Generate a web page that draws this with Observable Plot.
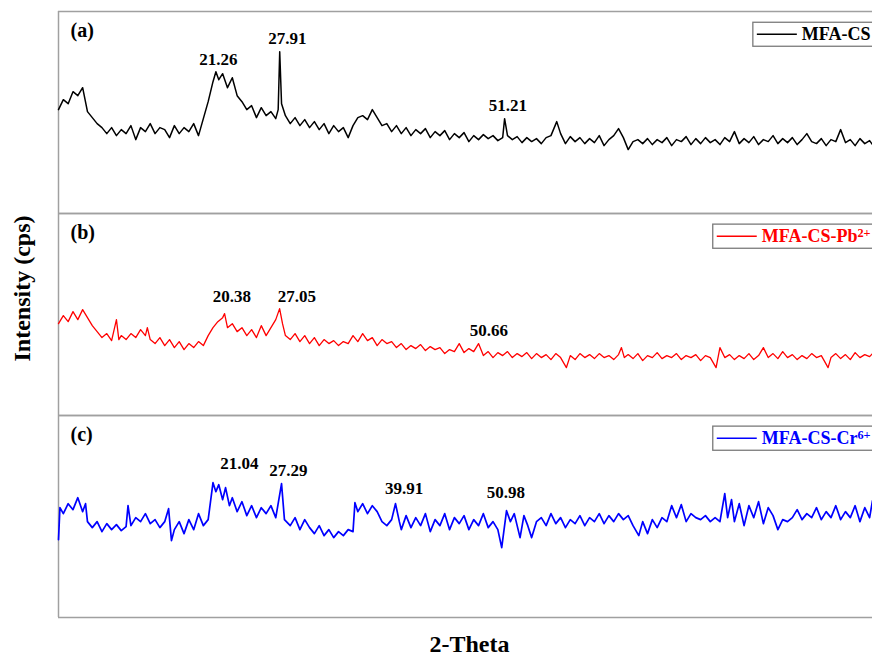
<!DOCTYPE html>
<html><head><meta charset="utf-8">
<script src="https://cdn.jsdelivr.net/npm/d3@7"></script>
<script src="https://cdn.jsdelivr.net/npm/@observablehq/plot@0.6"></script>
<style>html,body{margin:0;padding:0;background:#fff;overflow:hidden}</style>
</head><body><div id="chart"></div>
<script>
const panels = ["a", "b", "c"];
const panelLabels = ["(a)", "(b)", "(c)"];
const seriesNames = ["MFA-CS", "MFA-CS-Pb^2+", "MFA-CS-Cr^6+"];
const seriesColors = ["#000000", "#ff0000", "#0000ff"];
const xLabel = "2-Theta";
const yLabel = "Intensity (cps)";

// (a) MFA-CS
const thetaA = [5.0,5.5,6.0,6.5,7.0,7.5,8.0,8.5,9.0,9.5,10.0,10.5,11.0,11.5,12.0,12.5,13.0,13.5,14.0,14.5,15.0,15.5,16.0,16.5,17.0,17.5,18.0,18.5,19.0,19.5,20.0,20.5,21.0,21.3,21.6,22.0,22.5,23.0,23.5,24.0,24.5,25.0,25.5,26.0,26.5,27.0,27.5,27.75,27.91,28.1,28.5,29.0,29.5,30.0,30.5,31.0,31.5,32.0,32.5,33.0,33.5,34.0,34.5,35.0,35.5,36.0,36.5,37.0,37.5,38.0,38.5,39.0,39.5,40.0,40.5,41.0,41.5,42.0,42.5,43.0,43.5,44.0,44.5,45.0,45.5,46.0,46.5,47.0,47.5,48.0,48.5,49.0,49.5,50.0,50.5,51.0,51.2,51.5,52.0,52.5,53.0,53.5,54.0,54.5,55.0,55.5,56.0,56.6,57.0,57.5,58.0,58.5,59.0,59.5,60.0,60.5,61.0,61.5,62.0,62.5,63.0,63.5,64.0,64.5,65.0,65.5,66.0,66.5,67.0,67.5,68.0,68.5,69.0,69.5,70.0,70.5,71.0,71.5,72.0,72.5,73.0,73.5,74.0,74.5,75.0,75.5,76.0,76.5,77.0,77.5,78.0,78.5,79.0,79.5,80.0,80.5,81.0,81.5,82.0,82.5,83.0,83.5,84.0,84.5,85.0,85.5,86.0,86.5,87.0,87.5,88.0,88.5,89.0,89.3];
const intensityA = [104,114,110,122,118,126,102,96,90,86,80,86,78,84,80,88,74,86,82,90,80,86,84,76,88,80,86,82,90,78,95,112,132,142,134,140,126,136,118,112,104,108,96,106,98,102,95,104,162,110,98,90,96,88,94,86,92,84,90,80,88,82,86,76,88,96,98,94,104,96,88,90,82,88,80,86,78,84,80,85,76,82,78,83,74,80,76,81,72,78,74,79,75,78,73,76,95,78,74,77,71,76,72,75,70,76,78,92,80,70,77,72,76,70,75,71,78,68,74,78,85,76,64,72,74,70,75,69,74,71,76,68,74,72,77,69,75,70,76,71,74,69,76,72,82,70,75,71,77,69,74,72,78,70,75,71,76,69,74,80,72,70,75,68,74,72,84,71,74,68,75,70,73,69];

// (b) MFA-CS-Pb2+
const thetaB = [5.0,5.5,6.0,6.5,7.0,7.5,8.0,8.5,9.0,9.5,10.0,10.5,11.0,11.25,11.5,12.0,12.5,13.0,13.5,14.0,14.2,14.5,15.0,15.5,16.0,16.5,17.0,17.5,18.0,18.5,19.0,19.5,20.0,20.5,21.0,21.5,22.0,22.2,22.5,23.0,23.5,24.0,24.5,25.0,25.5,26.0,26.5,27.0,27.5,27.9,28.2,28.5,29.0,29.5,30.0,30.5,31.0,31.5,32.0,32.5,33.0,33.5,34.0,34.5,35.0,35.5,36.0,36.5,37.0,37.5,38.0,38.5,39.0,39.5,40.0,40.5,41.0,41.5,42.0,42.5,43.0,43.5,44.0,44.5,45.0,45.5,46.0,46.5,47.0,47.5,48.0,48.5,49.0,49.5,50.0,50.5,51.0,51.5,52.0,52.5,53.0,53.5,54.0,54.5,55.0,55.5,56.0,56.5,57.0,57.6,58.0,58.5,59.0,59.5,60.0,60.5,61.0,61.5,62.0,62.5,63.0,63.3,63.6,64.0,64.5,65.0,65.5,66.0,66.5,67.0,67.5,68.0,68.5,69.0,69.5,70.0,70.5,71.0,71.5,72.0,72.5,73.1,73.5,74.0,74.5,75.0,75.5,76.0,76.5,77.0,77.5,78.0,78.5,79.0,79.5,80.0,80.5,81.0,81.5,82.0,82.5,83.0,83.5,84.0,84.7,85.0,85.5,86.0,86.5,87.0,87.5,88.0,88.5,89.0,89.3];
const intensityB = [92,100,94,104,96,106,98,90,84,78,82,75,96,76,80,76,82,78,86,80,88,76,72,78,70,76,68,74,66,72,68,74,70,80,88,94,98,102,88,92,84,88,80,86,78,90,80,88,96,107,92,80,76,82,74,80,72,78,70,76,72,75,70,74,72,80,74,82,75,78,70,76,72,74,68,72,66,70,67,71,65,69,66,68,62,66,64,72,63,67,64,72,60,64,58,63,60,64,58,62,59,63,57,62,58,61,56,62,58,48,60,56,62,58,61,57,62,58,60,56,61,68,58,61,57,62,55,60,58,63,57,60,58,62,56,60,58,61,55,60,58,48,68,58,61,56,60,57,62,56,60,68,58,62,57,64,58,61,56,60,57,62,58,60,48,58,62,57,61,56,63,58,61,59,62];

// (c) MFA-CS-Cr6+
const thetaC = [5.0,5.15,5.5,6.0,6.5,7.0,7.5,7.8,8.0,8.5,9.0,9.5,10.0,10.5,11.0,11.5,12.0,12.2,12.5,13.0,13.5,14.0,14.5,15.0,15.5,16.0,16.4,16.7,17.0,17.5,18.0,18.5,19.0,19.5,20.0,20.5,21.0,21.3,21.6,22.0,22.3,22.7,23.0,23.5,24.0,24.5,25.0,25.5,26.0,26.5,27.0,27.5,28.1,28.4,29.0,29.5,30.0,30.5,31.0,31.5,32.0,32.5,33.0,33.5,34.0,34.5,35.0,35.5,35.7,36.0,36.5,37.0,37.5,38.0,38.5,39.0,39.5,39.9,40.3,40.5,41.0,41.5,42.0,42.5,43.0,43.5,44.0,44.5,45.0,45.5,46.0,46.5,47.0,47.5,48.0,48.5,49.0,49.5,50.0,50.5,50.9,51.4,51.8,52.2,52.8,53.2,53.6,54.0,54.5,55.0,55.5,56.0,56.5,57.0,57.5,58.0,58.5,59.0,59.5,60.0,60.5,61.0,61.5,62.0,62.5,63.0,63.5,64.0,64.5,65.1,65.5,66.0,66.5,67.0,67.5,68.0,68.5,69.0,69.5,70.0,70.5,71.0,71.5,72.0,72.5,73.0,73.5,74.0,74.3,74.7,75.0,75.5,76.0,76.5,77.0,77.5,78.0,78.5,79.0,79.5,80.0,80.5,81.0,81.5,82.0,82.5,83.0,83.5,84.0,84.5,85.0,85.5,86.0,86.5,87.0,87.5,88.0,88.5,89.0,89.3];
const intensityC = [78,110,104,114,108,120,106,114,96,90,96,86,94,88,93,87,91,112,92,100,96,104,94,98,90,96,109,77,88,96,84,98,88,104,92,98,135,126,133,118,130,112,120,106,116,102,112,100,110,104,112,100,134,98,92,100,88,98,90,84,92,82,88,80,86,82,88,86,115,106,114,104,112,106,96,92,98,114,96,88,102,90,100,92,104,86,98,92,104,88,100,94,102,88,98,92,104,90,96,88,70,107,96,104,80,102,92,80,96,100,92,104,94,100,90,98,94,102,92,100,96,104,94,102,96,104,98,102,92,82,96,84,98,90,100,96,112,100,113,96,104,100,98,102,96,100,96,124,100,118,96,114,92,112,100,116,94,110,102,88,98,96,100,108,98,104,100,110,98,106,100,112,98,106,100,112,96,110,100,117];

// peak annotations (text, position above the peak)
const peakPanel = ["a","a","a","b","b","b","c","c","c","c"];
const peakText = ["21.26","27.91","51.21","20.38","27.05","50.66","21.04","27.29","39.91","50.98"];
const peakTheta = [21.55,28.7,51.55,22.96,29.68,49.57,23.72,28.8,40.8,51.33];
const peakIntensity = [154,175,108,119,119,85,154,147,129,125];

const seriesTheta = [thetaA, thetaB, thetaC];
const seriesIntensity = [intensityA, intensityB, intensityC];

const rowsFor = i => seriesTheta[i].map((t, j) => ({panel: panels[i], theta: t, intensity: seriesIntensity[i][j]}));
const peaks = peakText.map((t, i) => ({panel: peakPanel[i], text: t, theta: peakTheta[i], intensity: peakIntensity[i]}));
const legendRows = panels.map((p, i) => ({panel: p, name: seriesNames[i], color: seriesColors[i], label: panelLabels[i]}));
const lineWidths = [1.5, 1.3, 1.7];

const font = "'Liberation Serif', 'Times New Roman', serif";

const chart = Plot.plot({
  width: 872, height: 658,
  marginLeft: 58, marginRight: 0, marginTop: 10, marginBottom: 41,
  style: {fontFamily: font, background: "#fff", overflow: "visible"},
  x: {domain: [5, 89.3], axis: null},
  y: {domain: [0, 202.3], axis: null},
  fy: {domain: panels, axis: null, padding: 0},
  marks: [
    Plot.ruleY([0, 202.3], {stroke: "#a0a0a0", strokeWidth: 1.5}),
    Plot.ruleX([5], {stroke: "#a0a0a0", strokeWidth: 1.5}),
    ...panels.map((p, i) => Plot.line(rowsFor(i), {x: "theta", y: "intensity", fy: "panel", stroke: seriesColors[i], strokeWidth: lineWidths[i], strokeLinejoin: "round"})),
    Plot.text(peaks, {x: "theta", y: "intensity", fy: "panel", text: "text", fontSize: 17, fontWeight: "bold", fill: "#000"}),
    Plot.text(legendRows, {fy: "panel", text: "label", frameAnchor: "top-left", dx: 12, dy: 19, textAnchor: "start", lineAnchor: "middle", fontSize: 20, fontWeight: "bold", fill: "#000"}),
    ...panels.map((p, i) => Plot.text([legendRows[i]], {fy: "panel", text: "name", frameAnchor: "top-right", dx: -2, dy: 23, textAnchor: "end", lineAnchor: "middle", fontSize: 18, fontWeight: "bold", fill: seriesColors[i]})),
    Plot.text([yLabel], {fy: () => "b", text: d => d, frameAnchor: "left", dx: -36, dy: -26, rotate: -90, lineAnchor: "middle", textAnchor: "middle", fontSize: 24, fontWeight: "bold", fill: "#000"}),
    Plot.text([xLabel], {fy: () => "c", text: d => d, frameAnchor: "bottom", dx: 4, dy: 27, lineAnchor: "middle", textAnchor: "middle", fontSize: 24, fontWeight: "bold", fill: "#000"})
  ]
});
document.getElementById("chart").append(chart);

// legend boxes, line samples and superscripts
const colorByBase = {};
seriesNames.forEach((n, i) => colorByBase[n.split("^")[0]] = seriesColors[i]);
d3.select(chart).selectAll("text").each(function() {
  const t = this.textContent;
  if (!t.startsWith("MFA")) return;
  const [base, sup] = t.split("^");
  const el = d3.select(this);
  el.text(base);
  const bb0 = this.getBBox();
  if (sup) el.append("tspan").attr("dy", "-0.42em").attr("font-size", "0.68em").text(sup);
  const bb = this.getBBox();
  const color = colorByBase[base];
  const g = d3.select(this.parentNode).insert("g", () => this);
  const tr = this.getAttribute("transform");
  if (tr) g.attr("transform", tr);
  g.append("rect").attr("x", bb.x - 49).attr("y", bb.y - 2).attr("width", bb.width + 60).attr("height", bb.height + 4)
    .attr("fill", "#fff").attr("stroke", "#7a7a7a").attr("stroke-width", 1.3);
  const cy = bb0.y + bb0.height / 2;
  g.append("line").attr("x1", bb.x - 45).attr("x2", bb.x - 5).attr("y1", cy).attr("y2", cy)
    .attr("stroke", color).attr("stroke-width", 1.4);
});
</script>
</body></html>
